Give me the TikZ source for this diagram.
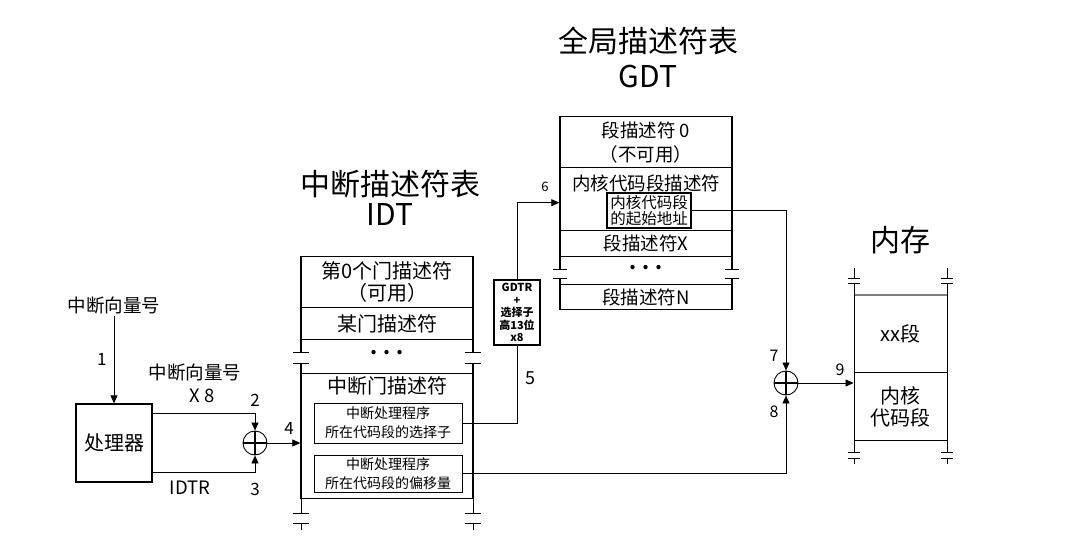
\documentclass[tikz,border=0pt]{standalone}
\usepackage{fontspec}
\setmainfont{Noto Sans CJK SC}
\usepackage{tikz}
\usetikzlibrary{positioning,calc,arrows.meta}

\begin{document}
\begin{tikzpicture}[x=1pt, y=-1pt,
    box/.style={draw,line width=1.4pt,inner sep=0pt,align=center},
    idtrow/.style={box,minimum width=172pt,anchor=north,font=\fontsize{20}{22}\selectfont},
    gdtrow/.style={box,minimum width=172pt,anchor=north,font=\fontsize{18.5}{24}\selectfont},
    memrow/.style={draw,line width=0.9pt,minimum width=93pt,anchor=north,inner sep=0pt,align=center,font=\fontsize{20}{22}\selectfont},
    sub/.style={draw,line width=0.9pt,inner sep=0pt,align=center},
    lbl/.style={font=\fontsize{18.5}{20}\selectfont,inner sep=2pt},
    num/.style={font=\fontsize{17}{17}\selectfont,inner sep=0pt},
    title/.style={align=center,font=\fontsize{30}{30}\selectfont},
    wire/.style={line width=0.8pt},
    arr/.style={wire,-{Triangle[length=8pt,width=7pt]}},
    adder/.style={circle,draw,line width=0.9pt,minimum size=24pt,inner sep=0pt,
      path picture={\draw[line width=1.4pt] (path picture bounding box.north) -- (path picture bounding box.south)
        (path picture bounding box.west) -- (path picture bounding box.east);}}]
    \useasboundingbox (0,0) rectangle (1069,540);

    % processor and first adder
    \node[box,line width=1.3pt,minimum width=76pt,minimum height=78pt,font=\fontsize{20}{22}\selectfont] (cpu) at (114,443) {处理器};
    \node[lbl] (vlab) at (114,305) {中断向量号};
    \node[adder] (c1) at (255,443) {};
    \node[lbl] (mlab) at (195,372) {中断向量号};
    \node[lbl] (x8) at (202,396) {X 8};
    \node[lbl] (idtr) at (190,488) {IDTR};

    % IDT
    \node[title] (idtt) at (390,198) {中断描述符表\\IDT};
    \node[idtrow,minimum height=51pt] (i0) at (387,256) {第0个门描述符\\（可用）};
    \node[idtrow,minimum height=32pt] (i1) at (387,307) {某门描述符};
    \node[font=\fontsize{20}{20}\selectfont\bfseries] (idots) at (387,353) {. . .};
    \node[idtrow,minimum height=125pt] (i3) at (387,373) {};
    \node[font=\fontsize{20}{22}\selectfont] (i3t) at (387,386) {中断门描述符};
    \node[sub,minimum width=148pt,minimum height=40pt,font=\fontsize{14}{19}\selectfont] (sel) at (388,423) {中断处理程序\\所在代码段的选择子};
    \node[sub,minimum width=148pt,minimum height=37pt,font=\fontsize{14}{19}\selectfont] (off) at (388,473.5) {中断处理程序\\所在代码段的偏移量};
    \foreach \x in {301,473} {
        \draw[line width=1.4pt] (\x,339) -- (\x,352) (\x,363) -- (\x,373);
        \draw[wire] (\x-8,352) -- (\x+8,352) (\x-8,363) -- (\x+8,363);
        \draw[wire] (\x,498) -- (\x,513) (\x,523) -- (\x,530);
        \draw[wire] (\x-8,513) -- (\x+8,513) (\x-8,523) -- (\x+8,523);
    }

    % GDTR box
    \node[box,line width=1.3pt,minimum width=46pt,minimum height=65pt,font=\fontsize{11}{12.5}\selectfont\bfseries] (gdtr) at (517,312.5) {GDTR\\+\\选择子\\高13位\\x8};

    % GDT
    \node[title,font=\fontsize{30}{35}\selectfont] (gdtt) at (648,57) {全局描述符表\\GDT};
    \node[gdtrow,minimum height=51pt] (g0) at (646,116) {段描述符 0\\（不可用）};
    \node[gdtrow,minimum height=63pt] (g1) at (646,167) {};
    \node[font=\fontsize{18.5}{20}\selectfont] (g1t) at (646,183) {内核代码段描述符};
    \node[sub,line width=1.2pt,minimum width=84pt,minimum height=35pt,font=\fontsize{15.5}{16}\selectfont] (gbase) at (649,210.5) {内核代码段\\的起始地址};
    \node[gdtrow,minimum height=26pt] (g2) at (646,230) {段描述符X};
    \node[font=\fontsize{20}{20}\selectfont\bfseries] (gdots) at (646,268) {. . .};
    \node[gdtrow,minimum height=25pt] (g3) at (646,284) {段描述符N};
    \foreach \x in {560,732} {
        \draw[line width=1.4pt] (\x,256) -- (\x,269) (\x,278) -- (\x,284);
        \draw[wire] (\x-7,269) -- (\x+7,269) (\x-7,278) -- (\x+7,278);
    }

    % memory
    \node[adder] (c2) at (786,383) {};
    \node[title] (memt) at (900,240) {内存};
    \node[memrow,minimum height=77pt] (m1) at (900.5,295) {xx段};
    \node[memrow,minimum height=68pt] (m2) at (900.5,372) {内核\\代码段};
    \draw[gray,line width=1.2pt] (m1.north west) -- (m1.north east);
    \foreach \x in {854,947} {
        \draw[wire] (\x,268) -- (\x,278) (\x,283) -- (\x,452) (\x,458) -- (\x,464);
        \draw[wire] (\x-6,278) -- (\x+6,278) (\x-6,283) -- (\x+6,283);
        \draw[wire] (\x-6,452) -- (\x+6,452) (\x-6,458) -- (\x+6,458);
    }

    % connectors
    \draw[arr] (vlab) -- node[num,left=7pt] {1} (cpu);
    \draw[arr] ([yshift=-10pt]cpu.north east) -| (c1.north);
    \draw[arr] ([yshift=10pt]cpu.south east) -| (c1.south);
    \draw[arr] (c1.east) -- (c1.east -| i3.west);
    \draw[wire] (sel.east) -| (gdtr.south);
    \draw[arr] (gdtr.north) |- ([yshift=-3.5pt]g1.west);
    \draw[arr] (gbase.east) -| (c2.north);
    \draw[arr] (off.east) -| (c2.south);
    \draw[arr] (c2.east) -- (c2.east -| m2.west);

    % step numbers
    \node[num] (n2) at (255,400) {2};
    \node[num] (n3) at (255,489) {3};
    \node[num] (n4) at (289,428) {4};
    \node[num,font=\fontsize{18}{18}\selectfont] (n5) at (530,378) {5};
    \node[num,font=\fontsize{13}{13}\selectfont] (n6) at (545,187) {6};
    \node[num,font=\fontsize{16}{16}\selectfont] (n7) at (774,356) {7};
    \node[num,font=\fontsize{16}{16}\selectfont] (n8) at (774,412) {8};
    \node[num,font=\fontsize{16}{16}\selectfont] (n9) at (840,370) {9};
\end{tikzpicture}
\end{document}
